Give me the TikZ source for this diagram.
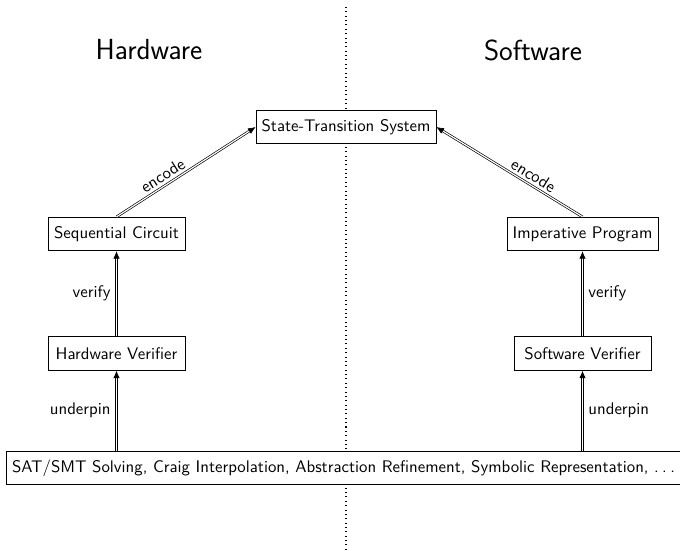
\documentclass[tikz,border=0pt]{standalone}
\usetikzlibrary{arrows.meta}
\renewcommand{\familydefault}{\sfdefault}
\begin{document}
\begin{tikzpicture}[x=0.595pt,y=-0.595pt, font=\sffamily,
  box/.style={draw, fill=white, minimum height=20pt, minimum width=81.5pt, inner sep=3.33pt},
  conn/.style={double, double distance=0.7pt, -{Latex[length=4.5pt,width=3.8pt]}},
  title/.style={font=\sffamily\LARGE}]
\useasboundingbox (0,0) rectangle (680,551);
\coordinate (dtop) at (346,7);
\coordinate (dbot) at (346,549);
\draw[dotted, semithick] (dtop) -- (dbot);
\node[title] (hw) at (149,50) {Hardware};
\node[title] (sw) at (533,50) {Software};
\node[box] (sts) at (346,127) {State-Transition System};
\node[box] (sc) at (116.5,234) {Sequential Circuit};
\node[box] (hv) at (116.5,353.5) {Hardware Verifier};
\node[box] (ip) at (582.5,234) {Imperative Program};
\node[box] (sv) at (582.5,353.5) {Software Verifier};
\node[box] (base) at (343.5,468) {SAT/SMT Solving, Craig Interpolation, Abstraction Refinement, Symbolic Representation, .\hspace{0.2em}.\hspace{0.2em}.};
\draw[conn] (sc.north) -- node[pos=0.37, above, sloped, inner sep=2pt] {encode} (sts.west);
\draw[conn] (ip.north) -- node[pos=0.37, above, sloped, inner sep=2pt] {encode} (sts.east);
\draw[conn] (hv.north) -- node[midway, left] {verify} (sc.south);
\draw[conn] (sv.north) -- node[midway, right] {verify} (ip.south);
\draw[conn] (base.north -| hv.south) -- node[midway, left] {underpin} (hv.south);
\draw[conn] (base.north -| sv.south) -- node[midway, right] {underpin} (sv.south);
\end{tikzpicture}
\end{document}
